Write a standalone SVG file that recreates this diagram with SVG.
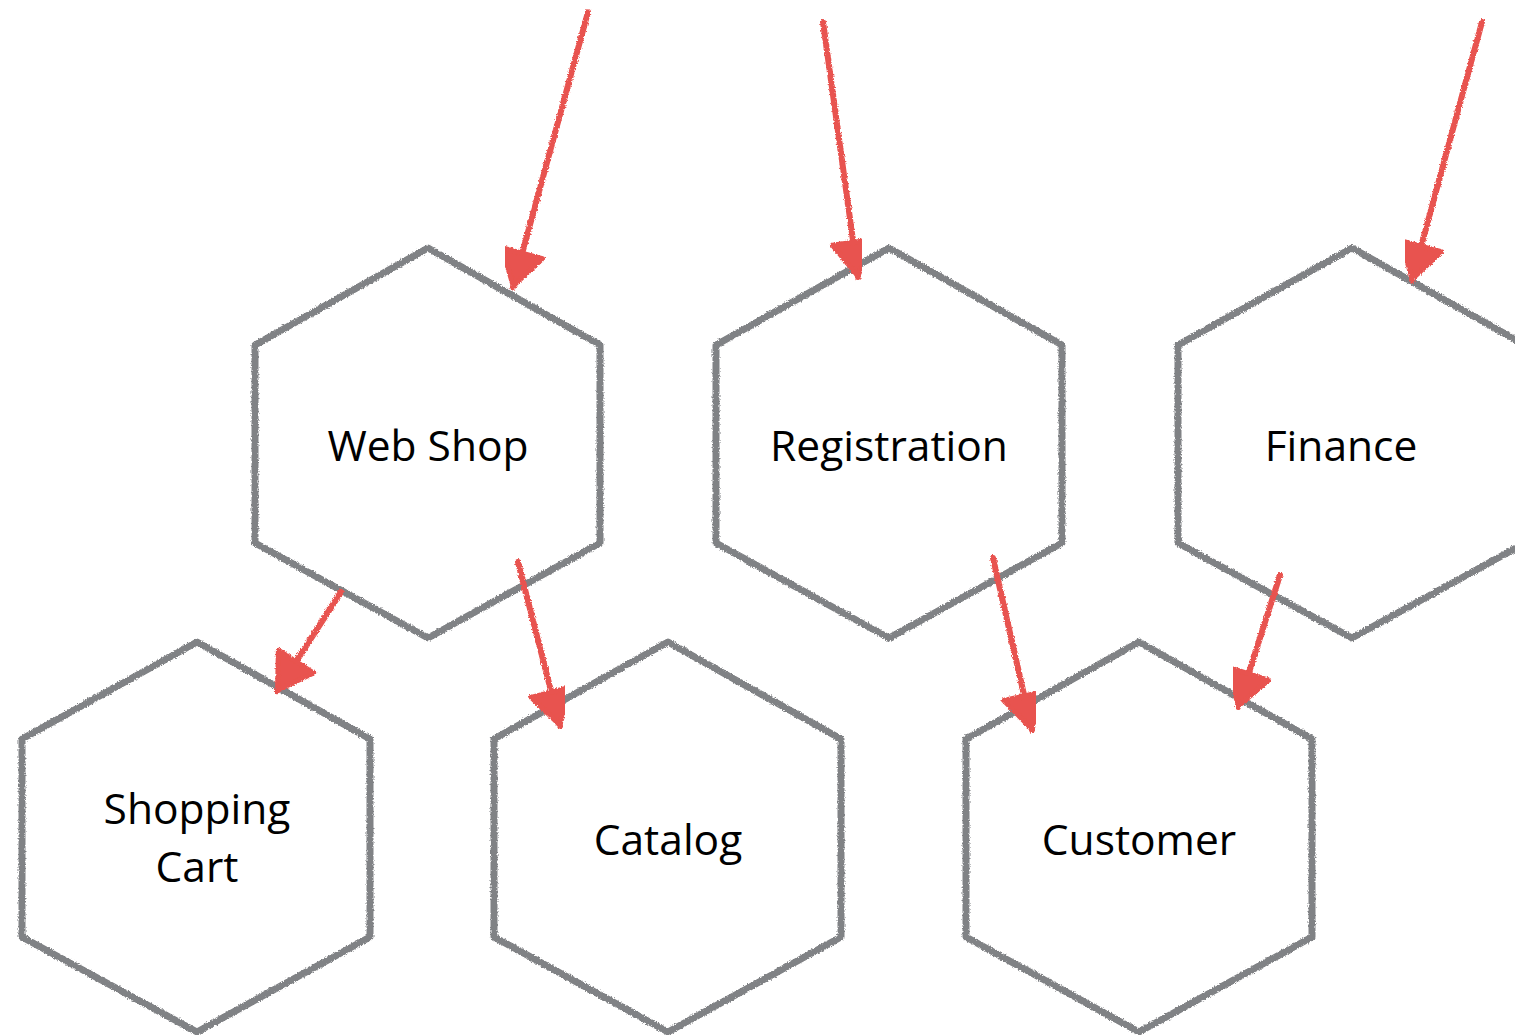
<svg xmlns="http://www.w3.org/2000/svg" width="1515" height="1035" viewBox="0 0 1515 1035">
  <style>
    .hex { fill: #ffffff; stroke: #808285; stroke-width: 7; stroke-linejoin: round; filter: url(#rough); }
    .lbl { font-family: "Open Sans", "Liberation Sans", sans-serif; font-size: 42.5px; fill: #000000; text-anchor: middle; }
    .edge { fill: none; stroke: #e8534f; stroke-width: 6; stroke-linecap: round; marker-end: url(#arrow); filter: url(#rough); }
  </style>
  <defs>
    <filter id="rough" x="-10%" y="-10%" width="120%" height="120%">
      <feTurbulence type="fractalNoise" baseFrequency="0.7" numOctaves="2" seed="3" result="n"/>
      <feDisplacementMap in="SourceGraphic" in2="n" scale="3.5" xChannelSelector="R" yChannelSelector="G"/>
    </filter>
    <marker id="arrow" viewBox="0 0 40 48" refX="38" refY="24" markerWidth="40" markerHeight="48" markerUnits="userSpaceOnUse" orient="auto">
      <path d="M3,3 L37,24 L3,45 z" fill="#e8534f" stroke="#e8534f" stroke-width="5" stroke-linejoin="round"/>
    </marker>
  </defs>

  <g id="node-webshop">
    <polygon class="hex" points="428,248 600,345 600,543 428,638 255,543 255,345"/>
    <text class="lbl" x="428" y="461">Web Shop</text>
  </g>
  <g id="node-registration">
    <polygon class="hex" points="889,248 1062,345 1062,543 889,638 716,543 716,345"/>
    <text class="lbl" x="889" y="461">Registration</text>
  </g>
  <g id="node-finance">
    <polygon class="hex" points="1352,248 1525,345 1525,543 1352,638 1178,543 1178,345"/>
    <text class="lbl" x="1341" y="461">Finance</text>
  </g>
  <g id="node-shoppingcart">
    <polygon class="hex" points="197,642 370,739 370,937 197,1032 22,937 22,739"/>
    <text class="lbl" x="197" y="824">Shopping</text>
    <text class="lbl" x="197" y="882">Cart</text>
  </g>
  <g id="node-catalog">
    <polygon class="hex" points="668,642 841,739 841,937 668,1032 494,937 494,739"/>
    <text class="lbl" x="668" y="855">Catalog</text>
  </g>
  <g id="node-customer">
    <polygon class="hex" points="1139,642 1312,739 1312,937 1139,1032 966,937 966,739"/>
    <text class="lbl" x="1139" y="855">Customer</text>
  </g>

  <g id="connectors">
    <line class="edge" x1="588" y1="12" x2="513" y2="287"/>
    <line class="edge" x1="823" y1="22" x2="858" y2="277"/>
    <line class="edge" x1="1128" y1="12" x2="1128" y2="637"/>
    <line class="edge" x1="1482" y1="22" x2="1412" y2="280"/>
    <line class="edge" x1="341" y1="592" x2="277" y2="691"/>
    <line class="edge" x1="518" y1="562" x2="560" y2="726"/>
    <line class="edge" x1="993" y1="558" x2="1032" y2="730"/>
    <line class="edge" x1="1280" y1="575" x2="1238" y2="707"/>
  </g>
</svg>
